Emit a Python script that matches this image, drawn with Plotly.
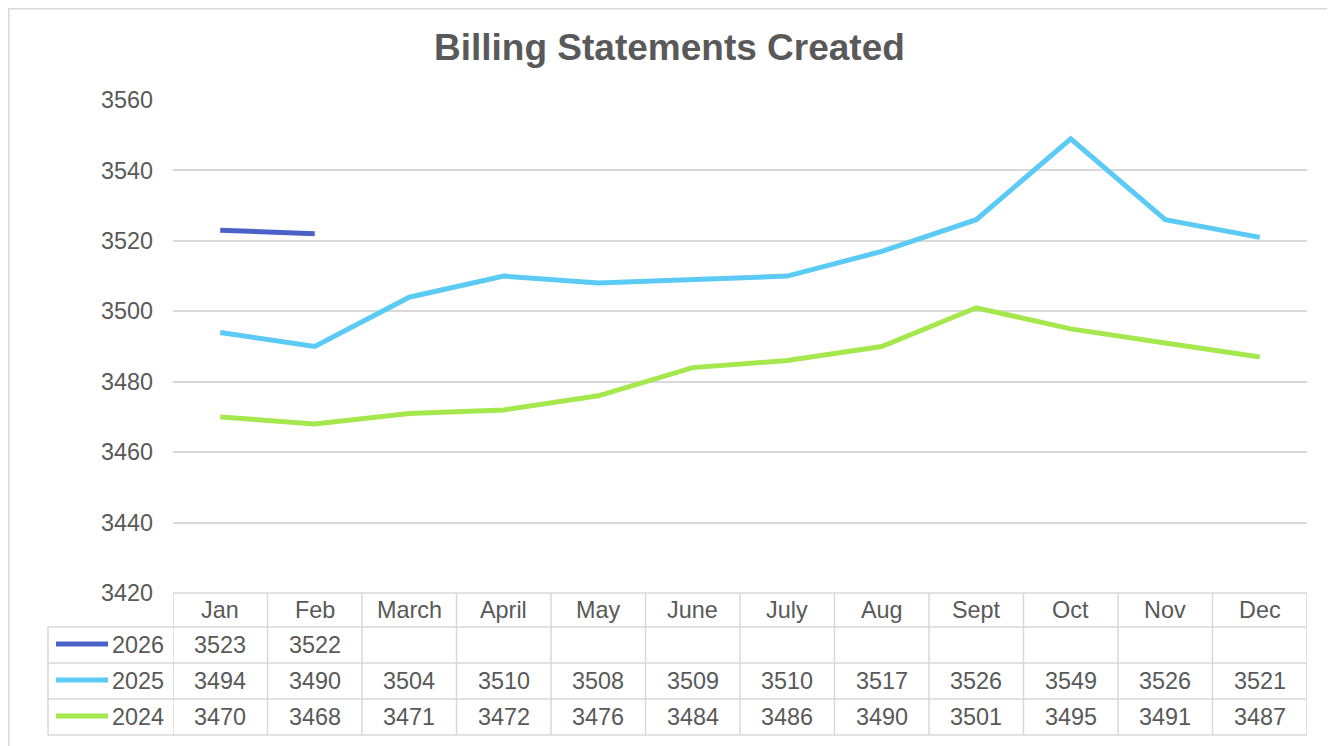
import plotly.graph_objects as go

# ---------------- data ----------------
months = ["Jan", "Feb", "March", "April", "May", "June", "July", "Aug", "Sept", "Oct", "Nov", "Dec"]
series_names = ["2026", "2025", "2024"]
values_2026 = [3523, 3522, None, None, None, None, None, None, None, None, None, None]
values_2025 = [3494, 3490, 3504, 3510, 3508, 3509, 3510, 3517, 3526, 3549, 3526, 3521]
values_2024 = [3470, 3468, 3471, 3472, 3476, 3484, 3486, 3490, 3501, 3495, 3491, 3487]
y_ticks = [3420, 3440, 3460, 3480, 3500, 3520, 3540, 3560]
title_text = "Billing Statements Created"

# ---------------- style ----------------
W, H = 1335, 746
OFF = 8  # page body margin offset
colors = ["#4A62C8", "#5BCBF5", "#A5E84D"]
text_color = "#595959"
grid_color = "#D9D9D9"
font_family = "Liberation Sans, Arial, sans-serif"
fs = 23.4


def py(p):
    return 1 - (p - OFF) / H


def px(p):
    return (p - OFF) / W


plot_left, plot_right, plot_top, plot_bottom = 173, 1307, 100, 593
row_lines = [627, 663, 699, 735]
row_centers = [645, 681, 717]
header_center = 610
legend_left = 48

all_series = [values_2026, values_2025, values_2024]

fig = go.Figure()
for name, vals, col in zip(series_names, all_series, colors):
    fig.add_trace(go.Scatter(
        x=months, y=vals, mode="lines", name=name,
        line=dict(color=col, width=5), connectgaps=False,
        showlegend=False, hoverinfo="x+y+name",
    ))

shapes = []
line_style = dict(color=grid_color, width=1.5)
# outer chart border (left, top, right)
bl = max(px(3), 0.8 / W)
bt = min(py(3), 1 - 0.8 / H)
shapes.append(dict(type="path", xref="paper", yref="paper",
                   path=f"M {bl},{py(760)} L {bl},{bt} L {px(1333)},{bt} L {px(1333)},{py(760)}",
                   line=line_style))
# table top line (axis bottom)
shapes.append(dict(type="line", xref="x", yref="paper", x0=-0.5, x1=len(months) - 0.5,
                   y0=py(plot_bottom), y1=py(plot_bottom), line=line_style))
# table horizontal lines
for r in row_lines:
    shapes.append(dict(type="line", xref="paper", yref="paper", x0=px(legend_left), x1=px(plot_right),
                       y0=py(r), y1=py(r), line=line_style))
# table vertical lines
for k in range(len(months) + 1):
    shapes.append(dict(type="line", xref="x", yref="paper", x0=k - 0.5, x1=k - 0.5,
                       y0=py(plot_bottom), y1=py(row_lines[-1]), line=line_style))
shapes.append(dict(type="line", xref="paper", yref="paper", x0=px(legend_left), x1=px(legend_left),
                   y0=py(row_lines[0]), y1=py(row_lines[-1]), line=line_style))
# legend keys
for yc, col in zip(row_centers, colors):
    shapes.append(dict(type="line", xref="paper", yref="paper", x0=px(56), x1=px(108),
                       y0=py(yc - 1), y1=py(yc - 1), line=dict(color=col, width=5)))

annotations = []
annotations.append(dict(text=title_text, xref="paper", yref="paper", x=px(669.5), y=py(47),
                        xanchor="center", yanchor="middle", showarrow=False,
                        font=dict(family=font_family, size=37, color=text_color, weight="bold")))
for m in months:
    annotations.append(dict(text=m, xref="x", yref="paper", x=m, y=py(header_center),
                            xanchor="center", yanchor="middle", showarrow=False,
                            font=dict(family=font_family, size=fs, color=text_color)))
for name, vals, yc in zip(series_names, all_series, row_centers):
    annotations.append(dict(text=name, xref="paper", yref="paper", x=px(166), y=py(yc),
                            xanchor="right", yanchor="middle", showarrow=False,
                            font=dict(family=font_family, size=fs, color=text_color)))
    for m, v in zip(months, vals):
        if v is None:
            continue
        annotations.append(dict(text=str(v), xref="x", yref="paper", x=m, y=py(yc),
                                xanchor="center", yanchor="middle", showarrow=False,
                                font=dict(family=font_family, size=fs, color=text_color)))

fig.update_layout(
    width=W, height=H,
    margin=dict(l=0, r=0, t=0, b=0, pad=0, autoexpand=False),
    paper_bgcolor="white", plot_bgcolor="white",
    xaxis=dict(type="category", categoryorder="array", categoryarray=months,
               range=[-0.5, len(months) - 0.5], domain=[px(plot_left), px(plot_right)],
               showticklabels=False, showgrid=False, zeroline=False, showline=False, ticks="",
               automargin=False),
    yaxis=dict(range=[y_ticks[0], y_ticks[-1]], domain=[py(plot_bottom), py(plot_top)],
               tickvals=y_ticks, ticktext=[str(t) for t in y_ticks],
               showgrid=True, gridcolor=grid_color, gridwidth=1.5,
               zeroline=False, showline=False, ticks="", ticklabelstandoff=19,
               automargin=False,
               tickfont=dict(family=font_family, size=fs, color=text_color)),
    shapes=shapes,
    annotations=annotations,
    showlegend=False,
)

fig.write_html("out.html")
